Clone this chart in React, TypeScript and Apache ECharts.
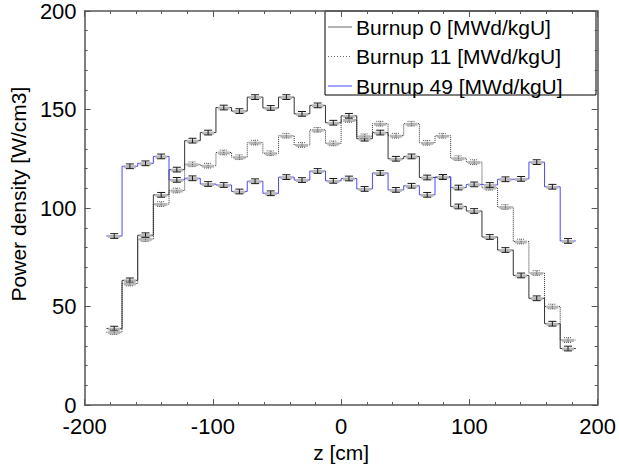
import React, { useEffect, useRef } from "react";
import * as echarts from "echarts";

const SERIES_NAMES = ["Burnup 0 [MWd/kgU]", "Burnup 11 [MWd/kgU]", "Burnup 49 [MWd/kgU]"];

const BURNUP_0 = [38.8, 63.3, 86.2, 106.7, 119.5, 134.2, 138.3, 151.0, 149.2, 156.3, 150.8, 156.3, 147.8, 152.1, 143.3, 146.8, 135.2, 138.3, 125.0, 126.2, 115.5, 115.8, 100.8, 98.5, 85.3, 78.7, 65.8, 54.2, 41.3, 28.7];
const BURNUP_11 = [37.0, 61.7, 84.2, 102.0, 108.9, 122.2, 121.5, 128.2, 125.8, 133.2, 127.8, 136.7, 132.0, 139.7, 132.8, 144.7, 136.4, 142.8, 136.7, 142.8, 133.1, 136.7, 125.3, 123.3, 110.3, 100.5, 83.0, 67.0, 50.0, 33.0];
const BURNUP_49 = [85.8, 121.2, 122.7, 126.2, 114.3, 115.1, 112.2, 111.7, 108.4, 113.6, 107.5, 115.7, 114.2, 118.8, 113.8, 115.0, 109.7, 117.8, 109.2, 111.3, 106.7, 115.8, 110.4, 112.0, 111.7, 114.6, 114.8, 123.3, 110.8, 83.3];

const Z_MIN = -183;
const BIN_WIDTH = 12.2;
const ERR = 1.2;

const X_MIN = -200, X_MAX = 200, X_INTERVAL = 100;
const Y_MIN = 0, Y_MAX = 200, Y_INTERVAL = 50;

const LINE_COLORS = ["#333333", "#333333", "#4a4aff"];
const LINE_TYPES: any[] = ["solid", "dotted", "solid"];
const DATA = [BURNUP_0, BURNUP_11, BURNUP_49];

const FONT = "'Liberation Sans', Arial, Helvetica, sans-serif";

function stepData(vals: number[]) {
  const pts = vals.map((v, i) => [Z_MIN + i * BIN_WIDTH, v]);
  pts.push([Z_MIN + vals.length * BIN_WIDTH, vals[vals.length - 1]]);
  return pts;
}
function centerData(vals: number[]) {
  return vals.map((v, i) => [Z_MIN + (i + 0.5) * BIN_WIDTH, v]);
}

const makeErr = (dashed: boolean) => (params: any, api: any) => {
  const x = api.value(0), y = api.value(1);
  const c = api.coord([x, y]);
  const t = api.coord([x, y + ERR]);
  const b = api.coord([x, y - ERR]);
  const cap = 4;
  const stroke: any = { stroke: dashed ? "#555" : "#1a1a1a", lineWidth: 1, fill: null };
  if (dashed) stroke.lineDash = [1, 1];
  return {
    type: "group",
    children: [
      { type: "rect", shape: { x: c[0] - 6, y: c[1] - 1, width: 12, height: 3 }, style: { fill: "#b8b8b8" } },
      { type: "line", shape: { x1: c[0], y1: t[1], x2: c[0], y2: b[1] }, style: stroke },
      { type: "line", shape: { x1: c[0] - cap, y1: t[1], x2: c[0] + cap, y2: t[1] }, style: stroke },
      { type: "line", shape: { x1: c[0] - cap, y1: b[1], x2: c[0] + cap, y2: b[1] }, style: stroke },
    ],
  };
};

export default function App() {
  const ref = useRef<HTMLDivElement>(null);
  useEffect(() => {
    if (!ref.current) return;
    const chart = echarts.init(ref.current, null, { renderer: "svg" });
    const axisLine = { show: true, onZero: false, lineStyle: { color: "#555", width: 1.5 } };
    const tick = { show: true, inside: true, length: 6, lineStyle: { color: "#555", width: 1 } };
    const minor = { show: true, splitNumber: 5, length: 3, lineStyle: { color: "#555", width: 1 } };
    const lineSeries = DATA.map((vals, i) => ({
      type: "line",
      name: SERIES_NAMES[i],
      data: stepData(vals),
      step: "end",
      symbol: "none",
      lineStyle: { color: LINE_COLORS[i], width: 1, type: LINE_TYPES[i] },
      z: 3,
    }));
    const errSeries = DATA.map((vals, i) => ({
      type: "custom",
      name: SERIES_NAMES[i] + " err",
      data: centerData(vals),
      renderItem: makeErr(i === 1),
      z: 4,
    }));

    const legendX = 325, legendY = 11, legendW = 271, legendH = 84;
    const legendChildren: any[] = [
      { type: "rect", shape: { x: legendX, y: legendY, width: legendW, height: legendH }, style: { fill: "#fff", stroke: "#000", lineWidth: 1 } },
    ];
    SERIES_NAMES.forEach((name, i) => {
      const cy = legendY + 16 + i * 29.5;
      const ls: any = { stroke: i === 2 ? LINE_COLORS[2] : "#666", lineWidth: 1 };
      if (i === 1) ls.lineDash = [1, 2];
      legendChildren.push({ type: "line", shape: { x1: legendX + 3, y1: cy, x2: legendX + 27, y2: cy }, style: ls });
      legendChildren.push({
        type: "text",
        x: legendX + 31,
        y: cy,
        style: { text: name, font: `21px ${FONT}`, fill: "#000", verticalAlign: "middle", align: "left" },
      });
    });

    chart.setOption({
      animation: false,
      backgroundColor: "#fff",
      textStyle: { fontFamily: FONT },
      grid: { left: 81, right: 19, top: 10, bottom: 58 },
      xAxis: [
        {
          type: "value", min: X_MIN, max: X_MAX, interval: X_INTERVAL,
          name: "z [cm]", nameLocation: "middle", nameGap: 30,
          nameTextStyle: { fontSize: 21, color: "#000", fontFamily: FONT },
          axisLine, axisTick: tick, minorTick: minor, splitLine: { show: false },
          axisLabel: { fontSize: 22, color: "#000", margin: 10, fontFamily: FONT },
        },
        {
          type: "value", min: X_MIN, max: X_MAX, interval: X_INTERVAL, position: "top",
          axisLine, axisTick: tick, minorTick: minor, splitLine: { show: false },
          axisLabel: { show: false },
        },
      ],
      yAxis: [
        {
          type: "value", min: Y_MIN, max: Y_MAX, interval: Y_INTERVAL,
          name: "Power density [W/cm3]", nameLocation: "middle", nameGap: 40,
          nameTextStyle: { fontSize: 21, color: "#000", fontFamily: FONT, padding: [0, 0, 0, 28] },
          axisLine, axisTick: tick, minorTick: minor, splitLine: { show: false },
          axisLabel: { fontSize: 22, color: "#000", margin: 8, fontFamily: FONT },
        },
        {
          type: "value", min: Y_MIN, max: Y_MAX, interval: Y_INTERVAL, position: "right",
          axisLine, axisTick: tick, minorTick: minor, splitLine: { show: false },
          axisLabel: { show: false },
        },
      ],
      series: [...lineSeries, ...errSeries],
      graphic: [{ type: "group", children: legendChildren, z: 100 }],
    });
    return () => chart.dispose();
  }, []);
  return (
    <div
      ref={ref}
      style={{ position: "fixed", left: 0, top: 0, width: 619, height: 468, background: "#fff" }}
    />
  );
}
